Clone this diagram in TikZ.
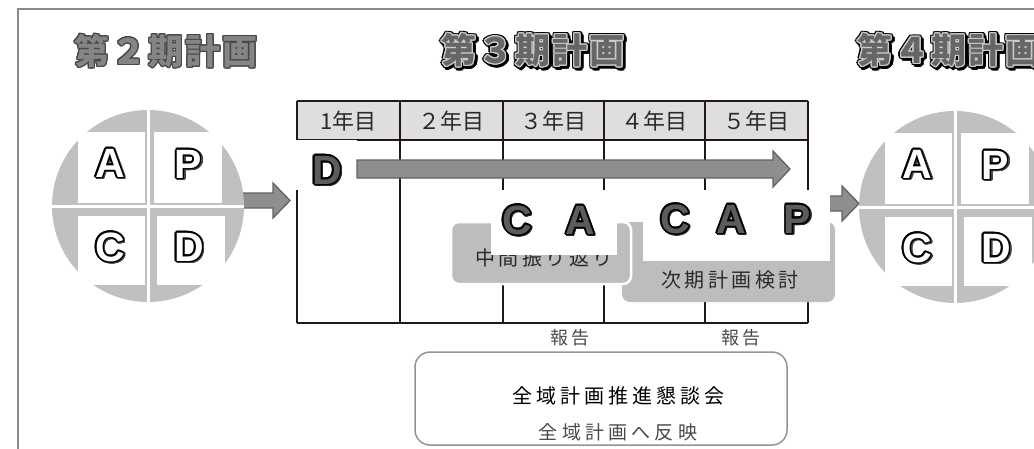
\documentclass[tikz,border=0pt]{standalone}
\usepackage{fontspec}
\setmainfont{Liberation Sans}
\newfontfamily\cjk{Noto Sans CJK JP}
\newfontfamily\latinb{Liberation Sans}
\usetikzlibrary{calc}
\definecolor{linec}{HTML}{231815}
\definecolor{hdr}{HTML}{DEDEDE}
\definecolor{boxg}{HTML}{BDBDBD}
\definecolor{circg}{HTML}{C0C0C0}
\definecolor{arrf}{HTML}{8E8E8E}
\definecolor{arrd}{HTML}{626262}
\definecolor{frm}{HTML}{8A8A8A}
\definecolor{txtc}{HTML}{2A2A2A}
\definecolor{serc}{HTML}{4A4A4A}
\newcommand\lbfont{\latinb\bfseries\fontsize{41}{45}\selectfont}
\newcommand\ttfont{\cjk\bfseries\fontsize{35}{40}\selectfont\addfontfeatures{LetterSpace=6}}
\newcommand\hfont{\cjk\fontsize{22}{26}\selectfont}
\newcommand\bxfont{\cjk\fontsize{20}{24}\selectfont\addfontfeatures{LetterSpace=18}}
\newcommand\sfnt{\cjk\fontsize{18}{22}\selectfont\addfontfeatures{LetterSpace=22}}
% ring of copies: #1 pos, #2 font, #3 text, #4 colour, #5 radius, #6 offset
\newcommand\ringtext[6]{%
  \foreach \ang in {0,22.5,...,337.5}{%
    \node[font=#2,text=#4,inner sep=0pt] at ($(#1)+(#6)+(\ang:#5pt)$) {#3};}}
% circle letter: #1 name, #2 pos, #3 letter
\newcommand\cletter[3]{%
  \ringtext{#2}{\lbfont}{#3}{black!75}{1.6}{1.2pt,-1.2pt}%
  \ringtext{#2}{\lbfont}{#3}{black}{1.4}{0pt,0pt}%
  \node[font=\lbfont,text=white,inner sep=0pt] (#1) at (#2) {#3};}
% table letter
\newcommand\tletter[3]{%
  \ringtext{#2}{\lbfont}{#3}{black!85}{1.5}{1.2pt,-1.2pt}%
  \ringtext{#2}{\lbfont}{#3}{black}{1.3}{0pt,0pt}%
  \node[font=\lbfont,text=black!64,inner sep=0pt] (#1) at (#2) {#3};}
% pdca circle: #1 prefix, #2 cx, #3 cy
\newcommand\pdcacircle[3]{%
  \fill[circg] (#2,#3) circle (96pt);
  \draw[white,line width=3pt] (#2,#3-96) -- (#2,#3+96);
  \draw[white,line width=3pt] (#2-96,#3) -- (#2+96,#3);
  \fill[white] (#2-70,#3-74) rectangle (#2-3,#3-3);
  \fill[white] (#2+6,#3-74) rectangle (#2+74,#3-3);
  \fill[white] (#2-70,#3+10) rectangle (#2-3,#3+79);
  \fill[white] (#2+9,#3+10) rectangle (#2+77,#3+79);
  \cletter{#1A}{#2-38,#3-43}{A}
  \cletter{#1P}{#2+40,#3-42}{P}
  \cletter{#1C}{#2-38,#3+41}{C}
  \cletter{#1D}{#2+41,#3+41}{D}}
\tikzset{
  tbl/.style={draw=linec,line width=1.4pt},
  gbox/.style={fill=boxg,rounded corners=8pt},
  barrow/.style={fill=arrf,draw=arrd,line width=1.3pt,line join=miter},
  hdrtxt/.style={font=\hfont,text=txtc,inner sep=0pt},
  bxtxt/.style={font=\bxfont,text=txtc,inner sep=0pt},
  sertxt/.style={font=\sfnt,text=serc,inner sep=0pt}
}
\begin{document}
\begin{tikzpicture}[x=1pt,y=-1pt]
\useasboundingbox (0,0) rectangle (1034,448);
\begin{scope}
\clip (0,0) rectangle (1034,448);
% frame
\draw[frm,line width=2pt] (18,9) rectangle (1060,470);
% titles
\ringtext{166,51}{\ttfont}{第２期計画}{black!72}{1.2}{0pt,0pt}
\node[font=\ttfont,text=black!48,inner sep=0pt] (t2) at (166,51) {第２期計画};
\ringtext{533,50}{\ttfont}{第３期計画}{black}{2.4}{1.6pt,-1.6pt}
\ringtext{533,50}{\ttfont}{第３期計画}{black}{2.4}{0pt,0pt}
\ringtext{533,50}{\ttfont}{第３期計画}{black!20}{1.0}{0pt,0pt}
\node[font=\ttfont,text=black!60,inner sep=0pt] (t3) at (533,50) {第３期計画};
\ringtext{949,50}{\ttfont}{第４期計画}{black}{2.4}{1.6pt,-1.6pt}
\ringtext{949,50}{\ttfont}{第４期計画}{black}{2.4}{0pt,0pt}
\ringtext{949,50}{\ttfont}{第４期計画}{black!20}{1.0}{0pt,0pt}
\node[font=\ttfont,text=black!60,inner sep=0pt] (t4) at (949,50) {第４期計画};
% side arrows (behind circles)
\draw[barrow] (232,193) -- (273,193) -- (273,183) -- (290,200.5) -- (273,218) -- (273,208) -- (232,208) -- cycle;
\draw[barrow] (826,196) -- (842,196) -- (842,186) -- (859,203.5) -- (842,221) -- (842,211) -- (826,211) -- cycle;
% circles
\pdcacircle{l}{148}{206}
\pdcacircle{r}{955}{207}
% table
\fill[hdr] (297,101) rectangle (808,140);
\draw[tbl] (297,101) -- (808,101);
\draw[tbl] (297,140) -- (808,140);
\draw[tbl] (297,323) -- (808,323);
\foreach \xx in {297,400,503,604,705,808}{\draw[tbl] (\xx,101) -- (\xx,323);}
\node[hdrtxt] (y1) at (348.5,121) {1年目};
\node[hdrtxt] (y2) at (451.5,121) {２年目};
\node[hdrtxt] (y3) at (553.5,121) {３年目};
\node[hdrtxt] (y4) at (654.5,121) {４年目};
\node[hdrtxt] (y5) at (756.5,121) {５年目};
% grey boxes
\fill[gbox] (622,222) rectangle (835,302);
\node[bxtxt] (jiki) at (730,280) {次期計画検討};
\draw[gbox,draw=white,line width=2.5pt] (451,222) rectangle (631,284);
\node[bxtxt] (chukan) at (544,258) {中間振り返り};
% white boxes
\fill[white] (290,140) rectangle (357,190);
\fill[white] (491,190) rectangle (617,255);
\fill[white] (643,190) rectangle (830,261);
\tletter{dD}{327,170}{D}
\tletter{c1}{517,220}{C}
\tletter{a1}{580,220}{A}
\tletter{c2}{675,219}{C}
\tletter{a2}{731,219}{A}
\tletter{p2}{797,219}{P}
% long arrow
\draw[barrow] (357,160) -- (773,160) -- (773,151) -- (790,169) -- (773,187) -- (773,178) -- (357,178) -- cycle;
% reports
\node[sertxt] (r1) at (570,338) {報告};
\node[sertxt] (r2) at (741,338) {報告};
% bottom box
\node[draw=black!42,line width=1.5pt,rounded corners=15pt,minimum width=372pt,minimum height=93pt,inner sep=0pt] (kon) at (601,398.5) {};
\node[font={\cjk\fontsize{20}{24}\selectfont\addfontfeatures{LetterSpace=20}},text=black,inner sep=0pt] (kt) at (618,396) {全域計画推進懇談会};
\node[font={\cjk\fontsize{19}{23}\selectfont\addfontfeatures{LetterSpace=22}},text=serc,inner sep=0pt] (ks) at (618,432) {全域計画へ反映};
\end{scope}
\end{tikzpicture}
\end{document}
